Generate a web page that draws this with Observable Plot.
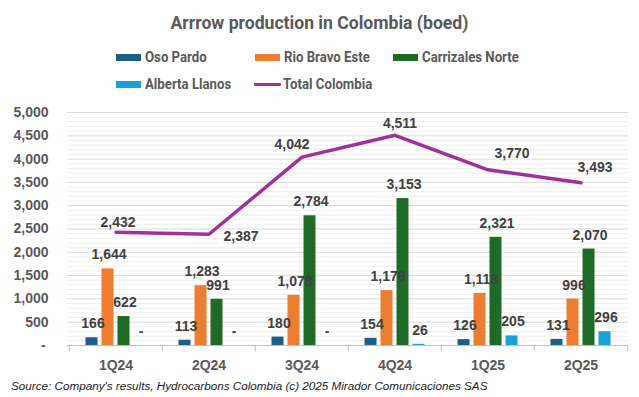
<!DOCTYPE html>
<html>
<head>
<meta charset="utf-8">
<script src="https://cdn.jsdelivr.net/npm/d3@7"></script>
<script src="https://cdn.jsdelivr.net/npm/@observablehq/plot@0.6"></script>
<style>
  body { margin: 0; background: #fff; width: 639px; height: 397px; overflow: hidden; font-family: "Liberation Sans", Arial, sans-serif; }
  #head { position: relative; height: 100px; width: 639px; }
  #title { position: absolute; left: 0; width: 639px; top: 12px; text-align: center; font: bold 17.6px Roboto, "Liberation Sans", sans-serif; color: #595959; line-height: 22px; }
  .leg { position: absolute; display: flex; align-items: center; height: 18px; }
  .legtxt { display: inline-block; font: bold 15px Roboto, "Liberation Sans", sans-serif; color: #595959; transform-origin: 0 50%; white-space: nowrap; }
  .sw { width: 25px; height: 7px; margin-right: 4px; }
  .ln { width: 27px; height: 3px; margin-right: 2px; border-radius: 1px; }
  #caption { height: 22px; padding-left: 11px; font: italic 11.7px "Liberation Sans", Arial, sans-serif; color: #222; line-height: 22px; }
  #chart svg { display: block; }
</style>
</head>
<body>
<div id="head">
  <div id="title">Arrrow production in Colombia (boed)</div>
  <div id="legend"></div>
</div>
<div id="chart"></div>
<div id="caption">Source: Company's results, Hydrocarbons Colombia (c) 2025 Mirador Comunicaciones SAS</div>
<script>
// ---- Data ----
const quarters = ["1Q24", "2Q24", "3Q24", "4Q24", "1Q25", "2Q25"];
const osoPardo = [166, 113, 180, 154, 126, 131];
const rioBravoEste = [1644, 1283, 1078, 1178, 1118, 996];
const carrizalesNorte = [622, 991, 2784, 3153, 2321, 2070];
const albertaLlanos = [0, 0, 0, 26, 205, 296];
const totalColombia = [2432, 2387, 4042, 4511, 3770, 3493];
const yTicks = [0, 500, 1000, 1500, 2000, 2500, 3000, 3500, 4000, 4500, 5000];

// ---- Build ----
const series = [
  {name: "Oso Pardo", values: osoPardo, color: "#1C5E85"},
  {name: "Rio Bravo Este", values: rioBravoEste, color: "#ED7D31"},
  {name: "Carrizales Norte", values: carrizalesNorte, color: "#1E6B28"},
  {name: "Alberta Llanos", values: albertaLlanos, color: "#1BA1DA"}
];
const totalColor = "#A0309A";
const rows = quarters.map((q, i) => ({quarter: q, total: totalColombia[i]}));
const fmt = v => v === 0 ? "-" : d3.format(",")(v);

// legend
const legend = document.getElementById("legend");
const legItems = [
  {name: "Oso Pardo", color: series[0].color, x: 116, y: 57},
  {name: "Rio Bravo Este", color: series[1].color, x: 255, y: 57},
  {name: "Carrizales Norte", color: series[2].color, x: 393, y: 57},
  {name: "Alberta Llanos", color: series[3].color, x: 116, y: 84},
  {name: "Total Colombia", color: totalColor, x: 254, y: 84, line: true}
];
for (const it of legItems) {
  const d = document.createElement("div");
  d.className = "leg";
  d.style.left = it.x + "px";
  d.style.top = (it.y - 9) + "px";
  d.innerHTML = `<span class="${it.line ? "ln" : "sw"}" style="background:${it.color}"></span><span class="legtxt" style="transform:scaleX(0.88)">${it.name}</span>`;
  legend.appendChild(d);
}

const W = 639, ML = 67, MR = 11;
const bandW = (W - ML - MR) / quarters.length;
const barW = 12.5, step = 16;
const inset = (bandW - barW) / 2;

const marks = [];
// gridlines
marks.push(Plot.ruleY(d3.range(100, 5001, 100).filter(v => v % 500 !== 0), {stroke: "#efefef", strokeWidth: 1}));
marks.push(Plot.ruleY(yTicks.filter(v => v > 0), {stroke: "#d9d9d9", strokeWidth: 1}));
marks.push(Plot.ruleY([0], {stroke: "#bfbfbf", strokeWidth: 1}));
// category separators below axis
marks.push(Plot.ruleX(quarters, {x: d => d, dx: -bandW / 2, y1: 0, y2: -135, stroke: "#bfbfbf"}));
marks.push(Plot.ruleX([quarters[quarters.length - 1]], {x: d => d, dx: bandW / 2, y1: 0, y2: -135, stroke: "#bfbfbf"}));

series.forEach((s, k) => {
  const data = quarters.map((q, i) => ({quarter: q, value: s.values[i]}));
  const off = (k - 1.5) * step;
  marks.push(Plot.barY(data, {x: "quarter", y: "value", fill: s.color, insetLeft: inset + off, insetRight: inset - off}));
});
series.forEach((s, k) => {
  const data = quarters.map((q, i) => ({quarter: q, value: s.values[i]}));
  const off = (k - 1.5) * step;
  marks.push(Plot.text(data, {x: "quarter", y: "value", text: d => fmt(d.value), dx: off + 1, dy: -14, fill: "#404040", fontWeight: "bold", fontSize: 14}));
});
// total line
marks.push(Plot.line(rows, {x: "quarter", y: "total", stroke: totalColor, strokeWidth: 3.5, strokeLinejoin: "round"}));
// label nudges (pixels) for the total line labels
const nudge = [[2, -10], [32, 2], [-10, -13], [5, -12], [24, -16], [14, -15]];
quarters.forEach((q, i) => {
  marks.push(Plot.text([rows[i]], {x: "quarter", y: "total", text: d => fmt(d.total),
    dx: nudge[i][0], dy: nudge[i][1], fill: "#404040", fontWeight: "bold", fontSize: 14}));
});

const chart = Plot.plot({
  width: W,
  height: 275,
  marginTop: 12,
  marginBottom: 30,
  marginLeft: ML,
  marginRight: MR,
  style: {fontFamily: "'Liberation Sans', Arial, sans-serif", fontSize: "14px", fontWeight: "bold", color: "#595959", background: "#fff"},
  x: {domain: quarters, padding: 0, tickSize: 0, tickPadding: 15, label: null},
  y: {domain: [0, 5000], ticks: yTicks, tickFormat: v => v === 0 ? "-\u2009" : d3.format(",")(v), tickSize: 0, tickPadding: 19, label: null},
  marks
});
document.getElementById("chart").appendChild(chart);
</script>
</body>
</html>
